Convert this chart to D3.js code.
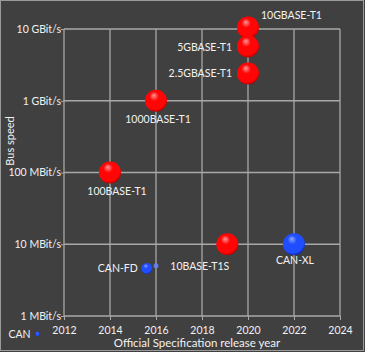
<!DOCTYPE html>
<html><head><meta charset="utf-8">
<script src="https://cdn.jsdelivr.net/npm/d3@7"></script>
<style>
html,body{margin:0;padding:0;background:#404040;}
svg{display:block;}
text{font-family:Lato,"Open Sans",sans-serif;fill:#f2f2f2;}
</style></head><body>
<svg id="c" width="365" height="352"></svg>
<script>
const names = ["10GBASE-T1","5GBASE-T1","2.5GBASE-T1","1000BASE-T1","100BASE-T1","10BASE-T1S","CAN-XL","CAN-FD","","CAN"];
const years = [2020, 2020, 2020, 2016, 2014, 2019.1, 2022, 2015.6, 2016, 2010.85];
const speedsMbit = [10500, 5700, 2400, 1000, 100, 10, 10, 4.6, 5, 0.56];
const families = ["eth","eth","eth","eth","eth","eth","can","can","canfaint","can"];
const sizes = [11, 11, 11, 11, 11, 11, 11, 5.5, 2.5, 2.2];
const xTicks = [2012, 2014, 2016, 2018, 2020, 2022, 2024];
const yTicks = [1, 10, 100, 1000, 10000];
const yTickLabels = ["1 MBit/s","10 MBit/s","100 MBit/s","1 GBit/s","10 GBit/s"];

const svg = d3.select("#c");
const W = 365, H = 352;
svg.append("rect").attr("x",0.5).attr("y",0.5).attr("width",W-2).attr("height",H-2)
  .attr("fill","#404040").attr("stroke","#9a9a9a").attr("stroke-width",1);

const x = d3.scaleLinear().domain([2012, 2024]).range([64, 340]);
const y = d3.scaleLog().domain([1, 10000]).range([316, 29]);

const defs = svg.append("defs");
function grad(id, hi, mid, edge){
  const g = defs.append("radialGradient").attr("id", id)
    .attr("cx","45%").attr("cy","40%").attr("r","60%").attr("fx","40%").attr("fy","25%");
  g.append("stop").attr("offset","0%").attr("stop-color",hi);
  g.append("stop").attr("offset","35%").attr("stop-color",mid);
  g.append("stop").attr("offset","85%").attr("stop-color",mid);
  g.append("stop").attr("offset","100%").attr("stop-color",edge);
}
grad("gred","#ff9a9a","#ff0505","#b80000");
grad("gblue","#8fa8ff","#1f4dff","#0a2ab0");

// grid
const grid = svg.append("g");
grid.selectAll("line.v").data(xTicks).join("line")
  .attr("x1",d=>x(d)).attr("x2",d=>x(d)).attr("y1",y(1)).attr("y2",y(10000))
  .attr("stroke","#a8a8a8").attr("stroke-width",1.3);
grid.selectAll("line.h").data(yTicks).join("line")
  .attr("x1",x(2012)).attr("x2",x(2024)).attr("y1",d=>y(d)).attr("y2",d=>y(d))
  .attr("stroke","#a8a8a8").attr("stroke-width",1.3);

// axes
const xAxis = d3.axisBottom(x).tickValues(xTicks).tickFormat(d3.format("d")).tickSize(4);
const gx = svg.append("g").attr("transform",`translate(0,${y(1)})`).call(xAxis);
gx.select(".domain").remove();
gx.selectAll(".tick line").attr("stroke","#a8a8a8");
gx.selectAll(".tick text").attr("dy","1.0em").style("font-size","10.5px").attr("fill","#f2f2f2");

const yAxis = d3.axisLeft(y).tickValues(yTicks).tickFormat((d,i)=>yTickLabels[i]).tickSize(3);
const gy = svg.append("g").attr("transform",`translate(${x(2012)},0)`).call(yAxis);
gy.select(".domain").remove();
gy.selectAll(".tick line").attr("stroke","#a8a8a8");
gy.selectAll(".tick text").attr("x",-3).style("font-size","10.5px").attr("fill","#f2f2f2");

svg.append("text").attr("x",197).attr("y",347).attr("text-anchor","middle")
  .style("font-size","11.5px").text("Official Specification release year");
svg.append("text").attr("transform","translate(14,141) rotate(-90)").attr("text-anchor","middle")
  .style("font-size","11px").text("Bus speed");

const pts = names.map((n,i)=>({n, yr:years[i], v:speedsMbit[i], f:families[i], r:sizes[i]}));
svg.append("g").selectAll("circle").data(pts).join("circle")
  .attr("cx",d=>x(d.yr)).attr("cy",d=>y(d.v)).attr("r",d=>d.r)
  .attr("fill",d=>d.f==="eth"?"url(#gred)":(d.f==="can"?"url(#gblue)":"#5f86ff"))
  .attr("opacity",d=>d.f==="canfaint"?0.85:1);

// labels: [dx, dy, anchor]
const labelPos = {
  "10GBASE-T1":[13,-8,"start"],
  "5GBASE-T1":[-16,4,"end"],
  "2.5GBASE-T1":[-16,4,"end"],
  "1000BASE-T1":[2,22,"middle"],
  "100BASE-T1":[7,22,"middle"],
  "10BASE-T1S":[2,26,"end"],
  "CAN-XL":[1,20,"middle"],
  "CAN-FD":[-9,4,"end"],
  "CAN":[-7,4,"end"]
};
svg.append("g").selectAll("text").data(pts.filter(d=>d.n)).join("text")
  .attr("x",d=>x(d.yr)+labelPos[d.n][0]).attr("y",d=>y(d.v)+labelPos[d.n][1])
  .attr("text-anchor",d=>labelPos[d.n][2]).style("font-size","10.5px").text(d=>d.n);
</script></body></html>
